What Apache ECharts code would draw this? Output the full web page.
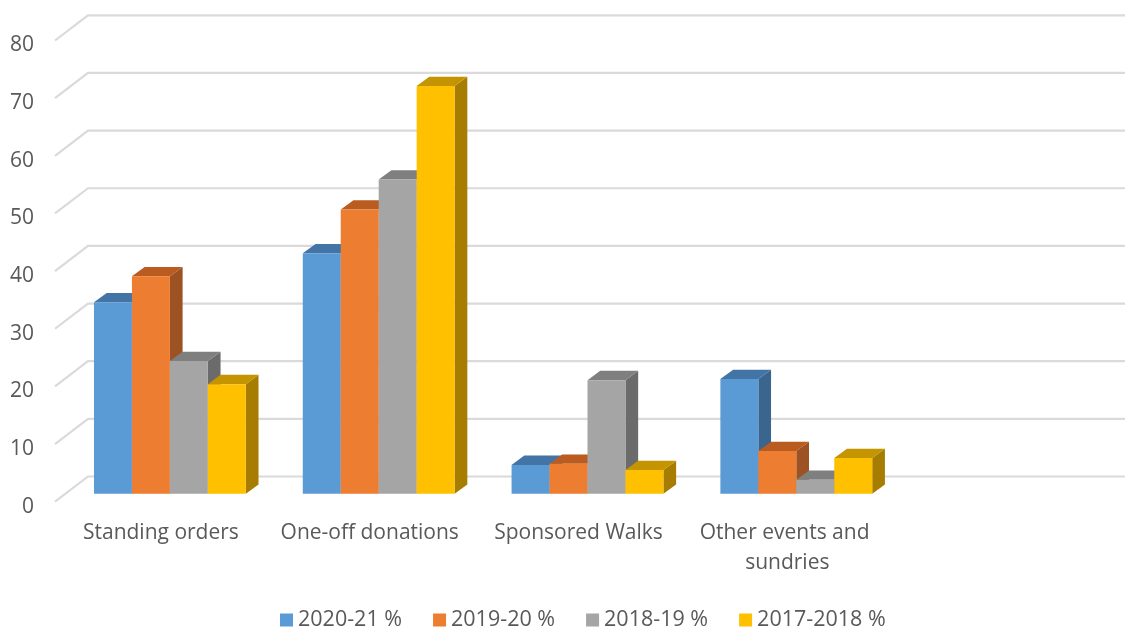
<!DOCTYPE html>
<html>
<head>
<meta charset="utf-8">
<script src="https://cdn.jsdelivr.net/npm/echarts@6/dist/echarts.min.js"></script>
<style>
html, body { margin: 0; padding: 0; background: #fff; }
#chart { width: 1125px; height: 628px; }
</style>
</head>
<body>
<div id="chart"></div>
<script>
var categories = ['Standing orders', 'One-off donations', 'Sponsored Walks', 'Other events and sundries', ''];
var yTicks = [0, 10, 20, 30, 40, 50, 60, 70, 80];

var seriesNames = ['2020-21 %', '2019-20 %', '2018-19 %', '2017-2018 %'];
var values2020 = [33.2, 41.7, 5.0, 19.9];
var values2019 = [37.7, 49.3, 5.2, 7.4];
var values2018 = [23.0, 54.5, 19.7, 2.4];
var values2017 = [19.0, 70.7, 4.1, 6.2];

var frontColors = ['#5B9BD5', '#ED7D31', '#A5A5A5', '#FFC000'];
var topColors = ['#4275A5', '#BA5C20', '#7F7F7F', '#C49500'];
var sideColors = ['#39658E', '#9C5222', '#6B6B6B', '#A67D00'];

var chart = echarts.init(document.getElementById('chart'));

// the grid is the front edge of the floor, bars stand a bit behind it
var wallDx = 33, wallDy = -25.2;
var barDx = 10.5, barDy = -8;
var depthDx = 12.7, depthDy = -9.3;

function renderWall(params, api) {
    var p = api.coord([0, api.value(0)]);
    var left = params.coordSys.x;
    var right = params.coordSys.x + params.coordSys.width;
    return {
        type: 'polyline',
        shape: { points: [[left, p[1]], [left + wallDx, p[1] + wallDy], [right + wallDx, p[1] + wallDy]] },
        style: { fill: null, stroke: '#DADADA', lineWidth: 2.2 },
        silent: true
    };
}

function makeBarRenderer(seriesIndex) {
    return function (params, api) {
        var base = api.coord([api.value(0), 0]);
        var top = api.coord([api.value(0), api.value(1)]);
        var band = api.size([1, 0])[0];
        var w = band / 5.5; // gap width 150%
        var x0 = base[0] - band / 2 + w * 0.75 + w * seriesIndex + barDx;
        var x1 = x0 + w;
        var yb = base[1] + barDy;
        var yt = top[1] + barDy;
        return {
            type: 'group',
            children: [
                {
                    type: 'polygon',
                    shape: { points: [[x1, yb], [x1 + depthDx, yb + depthDy], [x1 + depthDx, yt + depthDy], [x1, yt]] },
                    style: { fill: sideColors[seriesIndex] }
                },
                {
                    type: 'polygon',
                    shape: { points: [[x0, yt], [x1, yt], [x1 + depthDx, yt + depthDy], [x0 + depthDx, yt + depthDy]] },
                    style: { fill: topColors[seriesIndex] }
                },
                {
                    type: 'rect',
                    shape: { x: x0, y: yt, width: w, height: yb - yt },
                    style: { fill: api.visual('color') }
                }
            ]
        };
    };
}

var allValues = [values2020, values2019, values2018, values2017];
var series = [{
    name: 'wall',
    type: 'custom',
    renderItem: renderWall,
    data: yTicks.map(function (t) { return [t]; }),
    encode: { y: 0 },
    clip: false,
    silent: true,
    z: 1
}];
for (var i = 0; i < seriesNames.length; i++) {
    series.push({
        name: seriesNames[i],
        type: 'custom',
        renderItem: makeBarRenderer(i),
        itemStyle: { color: frontColors[i] },
        data: allValues[i].map(function (v, k) { return [k, v]; }),
        encode: { x: 0, y: 1 },
        clip: false,
        z: 2 + i
    });
}

chart.setOption({
    animation: false,
    backgroundColor: '#fff',
    textStyle: { fontFamily: '"Open Sans", sans-serif' },
    grid: { left: 55, right: 26, top: 40.5, height: 461.2, containLabel: false },
    legend: {
        data: seriesNames,
        left: 275,
        top: 604,
        icon: 'rect',
        itemWidth: 13,
        itemHeight: 13,
        itemGap: 31,
        selectedMode: false,
        textStyle: { fontSize: 21.5, color: '#595959', fontFamily: '"Open Sans", sans-serif' }
    },
    xAxis: {
        type: 'category',
        data: categories,
        axisLine: { show: false },
        axisTick: { show: false },
        splitLine: { show: false },
        axisLabel: {
            interval: 0,
            margin: 16,
            width: 205,
            overflow: 'break',
            lineHeight: 30,
            fontSize: 21,
            padding: [0, 0, 0, 3],
            color: '#595959',
            fontFamily: '"Open Sans", sans-serif'
        }
    },
    yAxis: {
        type: 'value',
        min: 0,
        max: 80,
        interval: 10,
        axisLine: { show: false },
        axisTick: { show: false },
        splitLine: { show: false },
        axisLabel: {
            margin: 21,
            fontSize: 21,
            verticalAlign: 'top',
            lineHeight: 10,
            color: '#595959',
            fontFamily: '"Open Sans", sans-serif'
        }
    },
    series: series
});
</script>
</body>
</html>
